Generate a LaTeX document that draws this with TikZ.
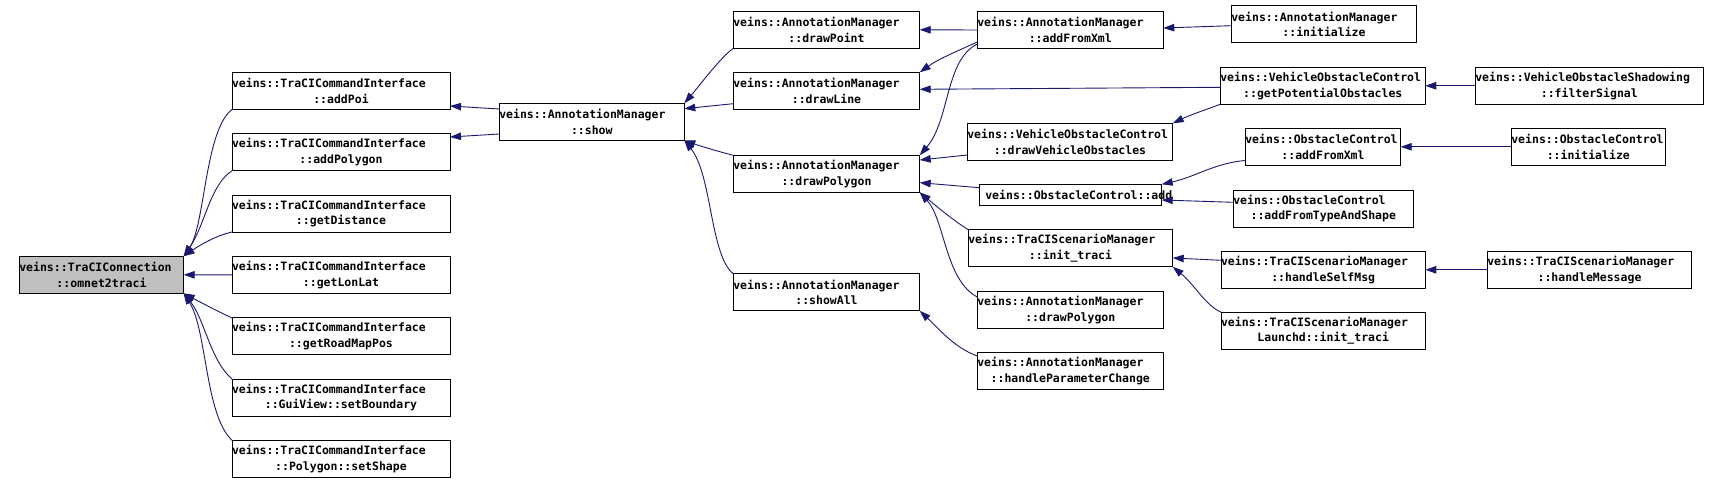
\documentclass[tikz,border=0pt]{standalone}
\usepackage{fontspec}
\usepackage{xcolor}
\usepackage{tikz}
\usetikzlibrary{arrows.meta,positioning}
\newfontfamily\dotfont{DejaVu Sans Mono}
\definecolor{edgeNavy}{HTML}{191970}
\definecolor{focusGrey}{HTML}{BFBFBF}
\newcommand{\fnhead}[1]{\makebox[\linewidth][l]{#1}}

\begin{document}
\begin{tikzpicture}[
  x=1pt,y=-1pt,
  fnbox/.style={rectangle,draw=black,fill=white,line width=0.9pt,inner sep=0pt,outer sep=0pt,text width=#1,minimum height=37pt,align=center,font=\dotfont\bfseries\fontsize{11.5pt}{15.7pt}\selectfont},
  callarrow/.style={-{Triangle[length=11pt,width=7.5pt]},line width=0.9pt,color=edgeNavy}
]
\useasboundingbox (0,0) rectangle (1719,484);
% focus function and its direct callers
\node[fnbox=164.4pt,fill=focusGrey] (omnet) at (101.5,274.8) {\fnhead{veins::TraCIConnection}\\::omnet2traci};
\node[fnbox=218pt] (addPoi) at (341,91) {\fnhead{veins::TraCICommandInterface}\\::addPoi};
\node[fnbox=218pt,below=24.3pt of addPoi] (addPolygon) {\fnhead{veins::TraCICommandInterface}\\::addPolygon};
\node[fnbox=218pt,below=24.3pt of addPolygon] (getDistance) {\fnhead{veins::TraCICommandInterface}\\::getDistance};
\node[fnbox=218pt,below=24.3pt of getDistance] (getLonLat) {\fnhead{veins::TraCICommandInterface}\\::getLonLat};
\node[fnbox=218pt,below=24.3pt of getLonLat] (getRoadMapPos) {\fnhead{veins::TraCICommandInterface}\\::getRoadMapPos};
\node[fnbox=218pt,below=24.3pt of getRoadMapPos] (setBoundary) {\fnhead{veins::TraCICommandInterface}\\::GuiView::setBoundary};
\node[fnbox=218pt,below=24.3pt of setBoundary] (setShape) {\fnhead{veins::TraCICommandInterface}\\::Polygon::setShape};
% annotation manager
\node[fnbox=185pt] (show) at (591.8,121.8) {\fnhead{veins::AnnotationManager}\\::show};
\node[fnbox=186.4pt] (drawPoint) at (826.5,29.8) {\fnhead{veins::AnnotationManager}\\::drawPoint};
\node[fnbox=186.4pt] (drawLine) at (826.5,90.8) {\fnhead{veins::AnnotationManager}\\::drawLine};
\node[fnbox=186.4pt] (drawPolygon) at (826.5,173.8) {\fnhead{veins::AnnotationManager}\\::drawPolygon};
\node[fnbox=186.4pt] (showAll) at (826.5,292.3) {\fnhead{veins::AnnotationManager}\\::showAll};
% third column
\node[fnbox=186pt] (addFromXml) at (1070.3,30) {\fnhead{veins::AnnotationManager}\\::addFromXml};
\node[fnbox=205.4pt] (drawVehObs) at (1070,141.8) {\fnhead{veins::VehicleObstacleControl}\\::drawVehicleObstacles};
\node[fnbox=182.4pt,minimum height=21pt] (ocAdd) at (1070.5,194.8) {\fnhead{\hspace{6pt}veins::ObstacleControl::add}};
\node[fnbox=204.4pt] (initTraci) at (1070.5,248.3) {\fnhead{veins::TraCIScenarioManager}\\::init\_traci};
\node[fnbox=186pt] (drawPolygon2) at (1070.3,309.8) {\fnhead{veins::AnnotationManager}\\::drawPolygon};
\node[fnbox=186pt] (paramChange) at (1070.3,370.8) {\fnhead{veins::AnnotationManager}\\::handleParameterChange};
% fourth column
\node[fnbox=185.4pt] (amInit) at (1324,24.4) {\fnhead{veins::AnnotationManager}\\::initialize};
\node[fnbox=205pt] (potObs) at (1322.8,85.8) {\fnhead{veins::VehicleObstacleControl}\\::getPotentialObstacles};
\node[fnbox=155.4pt] (ocFromXml) at (1323,146.8) {\fnhead{veins::ObstacleControl}\\::addFromXml};
\node[fnbox=180pt] (ocFromShape) at (1323.3,208.5) {\fnhead{veins::ObstacleControl}\\::addFromTypeAndShape};
\node[fnbox=204.3pt] (selfMsg) at (1323.2,269.8) {\fnhead{veins::TraCIScenarioManager}\\::handleSelfMsg};
\node[fnbox=204.3pt] (launchdInit) at (1323.2,330.7) {\fnhead{veins::TraCIScenarioManager}\\Launchd::init\_traci};
% fifth column
\node[fnbox=228pt] (filterSignal) at (1589.3,85.8) {\fnhead{veins::VehicleObstacleShadowing}\\::filterSignal};
\node[fnbox=154pt] (ocInit) at (1588.3,146.8) {\fnhead{veins::ObstacleControl}\\::initialize};
\node[fnbox=204.4pt] (handleMsg) at (1589.5,269.8) {\fnhead{veins::TraCIScenarioManager}\\::handleMessage};
% calls into omnet2traci
\draw[callarrow] (addPoi.south west) .. controls (205,130) and (205,225) .. (omnet.north east);
\draw[callarrow] (addPolygon.south west) .. controls (210,185) and (205,225) .. (omnet.north east);
\draw[callarrow] (getDistance.west |- 0,232) .. controls (215,236) and (200,245) .. (omnet.north east);
\draw[callarrow] (getLonLat.west) -- (omnet.east);
\draw[callarrow] (getRoadMapPos.west |- 0,318) .. controls (215,310) and (200,302) .. (omnet.south east);
\draw[callarrow] (setBoundary.north west) .. controls (210,360) and (205,320) .. (omnet.south east);
\draw[callarrow] (setShape.north west) .. controls (205,415) and (207,330) .. (omnet.south east);
% calls from show
\draw[callarrow] (show.west |- 0,109) -- (addPoi.east |- 0,106);
\draw[callarrow] (show.west |- 0,134) -- (addPolygon.east |- 0,137);
\draw[callarrow] (drawPoint.south west) .. controls (720,58) and (700,85) .. (show.north east);
\draw[callarrow] (drawLine.west |- 0,103.7) -- (show.east |- 0,108.7);
\draw[callarrow] (drawPolygon.north west) .. controls (720,152) and (700,146) .. (show.south east);
\draw[callarrow] (showAll.north west) .. controls (710,255) and (712,175) .. (show.south east);
% third column into annotation manager
\draw[callarrow] (addFromXml.west) -- (drawPoint.east);
\draw[callarrow] (addFromXml.west |- 0,42) .. controls (960,50) and (940,58) .. (drawLine.north east);
\draw[callarrow] (addFromXml.west |- 0,44) .. controls (945,60) and (950,120) .. (drawPolygon.north east);
\draw[callarrow] (potObs.west |- 0,87.3) -- (drawLine.east |- 0,89.3);
\draw[callarrow] (drawVehObs.west |- 0,155) -- (drawPolygon.east |- 0,160);
\draw[callarrow] (ocAdd.west |- 0,187.7) -- (drawPolygon.east |- 0,182.7);
\draw[callarrow] (initTraci.north west) .. controls (950,218) and (935,205) .. (drawPolygon.south east);
\draw[callarrow] (drawPolygon2.west |- 0,297) .. controls (945,280) and (945,220) .. (drawPolygon.south east);
\draw[callarrow] (paramChange.west |- 0,356) .. controls (955,348) and (940,330) .. (showAll.south east);
% fourth column
\draw[callarrow] (amInit.west |- 0,25.7) -- (addFromXml.east |- 0,28);
\draw[callarrow] (potObs.south west) .. controls (1205,110) and (1190,115) .. (drawVehObs.north east);
\draw[callarrow] (ocFromXml.west |- 0,160.5) .. controls (1215,163) and (1195,177) .. (ocAdd.north east);
\draw[callarrow] (ocFromShape.west |- 0,202.3) -- (ocAdd.east |- 0,200);
\draw[callarrow] (selfMsg.west |- 0,260.3) -- (initTraci.east |- 0,258);
\draw[callarrow] (launchdInit.north west) .. controls (1205,305) and (1195,285) .. (initTraci.south east);
% fifth column
\draw[callarrow] (filterSignal.west) -- (potObs.east);
\draw[callarrow] (ocInit.west) -- (ocFromXml.east);
\draw[callarrow] (handleMsg.west) -- (selfMsg.east);
\end{tikzpicture}
\end{document}
